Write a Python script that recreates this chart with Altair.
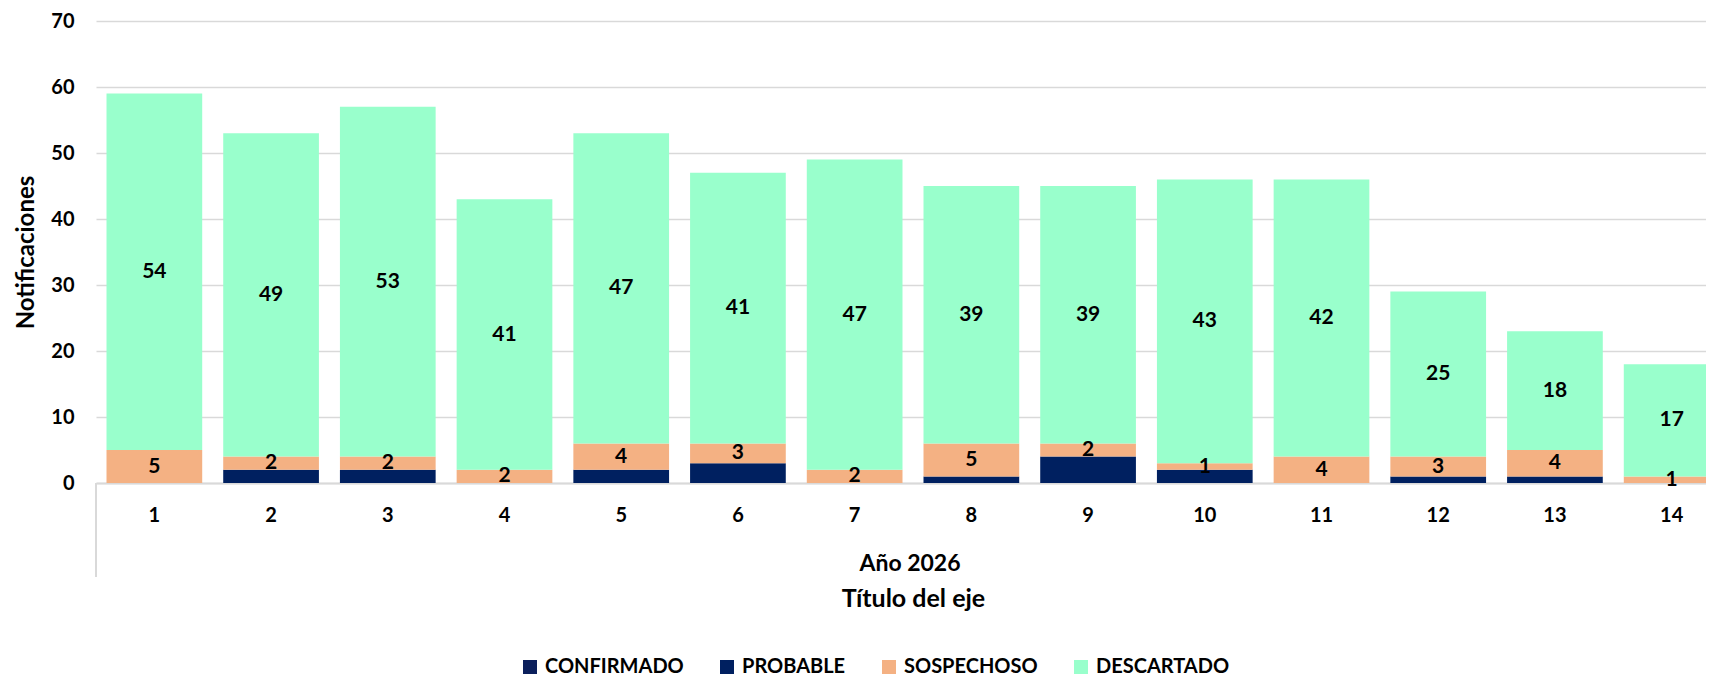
import altair as alt
import pandas as pd

semanas = [str(i) for i in range(1, 15)]
series = ["CONFIRMADO", "PROBABLE", "SOSPECHOSO", "DESCARTADO"]
colores = ["#0B1F5C", "#002060", "#F4B183", "#99FFCC"]

confirmado = [0] * 14
probable = [0, 2, 2, 0, 2, 3, 0, 1, 4, 2, 0, 1, 1, 0]
sospechoso = [5, 2, 2, 2, 4, 3, 2, 5, 2, 1, 4, 3, 4, 1]
descartado = [54, 49, 53, 41, 47, 41, 47, 39, 39, 43, 42, 25, 18, 17]

rows = []
for serie, vals in zip(series, [confirmado, probable, sospechoso, descartado]):
    for s, v in zip(semanas, vals):
        rows.append({"semana": s, "serie": serie, "valor": v, "orden": series.index(serie)})
df = pd.DataFrame(rows)

FONT = "Lato"
W_RANGE = 1634
H = 462

xaxis = alt.Axis(
    title="Título del eje",
    titleFont=FONT, titleFontSize=25, titleFontWeight="bold", titleColor="#000000",
    titleX=817, titleY=115, titleBaseline="middle", titleAlign="center",
    labelFont=FONT, labelFontSize=20, labelFontWeight="bold", labelColor="#000000",
    labelAngle=0, labelPadding=22, ticks=False,
    domainColor="#D9D9D9", domainWidth=2,
)
yaxis = alt.Axis(
    title="Notificaciones", values=list(range(0, 71, 10)),
    titleFont=FONT, titleFontSize=24, titleFontWeight="bold", titleColor="#000000",
    titleX=-70, titleBaseline="middle",
    labelFont=FONT, labelFontSize=20, labelFontWeight="bold", labelColor="#000000",
    labelPadding=22, ticks=False, domain=False,
    gridColor="#D9D9D9", gridWidth=1.5,
)
xscale = alt.Scale(range=[0, W_RANGE], paddingInner=0.18, paddingOuter=0.09)
yscale = alt.Scale(domain=[0, 70])

base = alt.Chart(df).transform_stack(
    stack="valor", groupby=["semana"], as_=["y0", "y1"], sort=[alt.SortField("orden")]
).transform_calculate(mid="(datum.y0 + datum.y1) / 2")

bars = base.mark_bar().encode(
    x=alt.X("semana:N", sort=semanas, scale=xscale, axis=xaxis),
    y=alt.Y("y0:Q", scale=yscale, axis=yaxis),
    y2="y1:Q",
    color=alt.Color(
        "serie:N",
        scale=alt.Scale(domain=series, range=colores),
        legend=alt.Legend(
            title=None, orient="none", direction="horizontal",
            legendX=424, legendY=636,
            symbolType="square", symbolSize=196, symbolStrokeWidth=0, symbolOpacity=1,
            labelFont=FONT, labelFontSize=20, labelFontWeight="bold", labelColor="#000000",
            columnPadding=33, labelOffset=5,
        ),
    ),
    order=alt.Order("orden:Q"),
)

labels = base.transform_filter(
    "datum.valor > 0 && (datum.serie == 'SOSPECHOSO' || datum.serie == 'DESCARTADO')"
).mark_text(font=FONT, fontSize=21, fontWeight="bold", color="#000000", baseline="middle").encode(
    x=alt.X("semana:N", sort=semanas, scale=xscale, axis=xaxis),
    y=alt.Y("mid:Q", scale=yscale, axis=yaxis),
    text=alt.Text("valor:Q"),
)

anio = alt.Chart(pd.DataFrame({"t": ["Año 2026"]})).mark_text(
    font=FONT, fontSize=23, fontWeight="bold", color="#000000", baseline="middle", align="center"
).encode(x=alt.value(814), y=alt.value(543), text="t:N")

sep = alt.Chart(pd.DataFrame({"t": [0]})).mark_rule(color="#D9D9D9", strokeWidth=2).encode(
    x=alt.value(0), y=alt.datum(0, scale=yscale), y2=alt.value(556)
)

chart = alt.layer(bars, labels, anio, sep).properties(
    width=1610, height=H,
    background="white",
    autosize=alt.AutoSizeParams(type="none"),
    padding={"left": 88, "top": 13, "right": 0, "bottom": 193},
).configure_view(stroke=None)

chart.save("out.html", embed_options={"renderer": "svg", "actions": False})
